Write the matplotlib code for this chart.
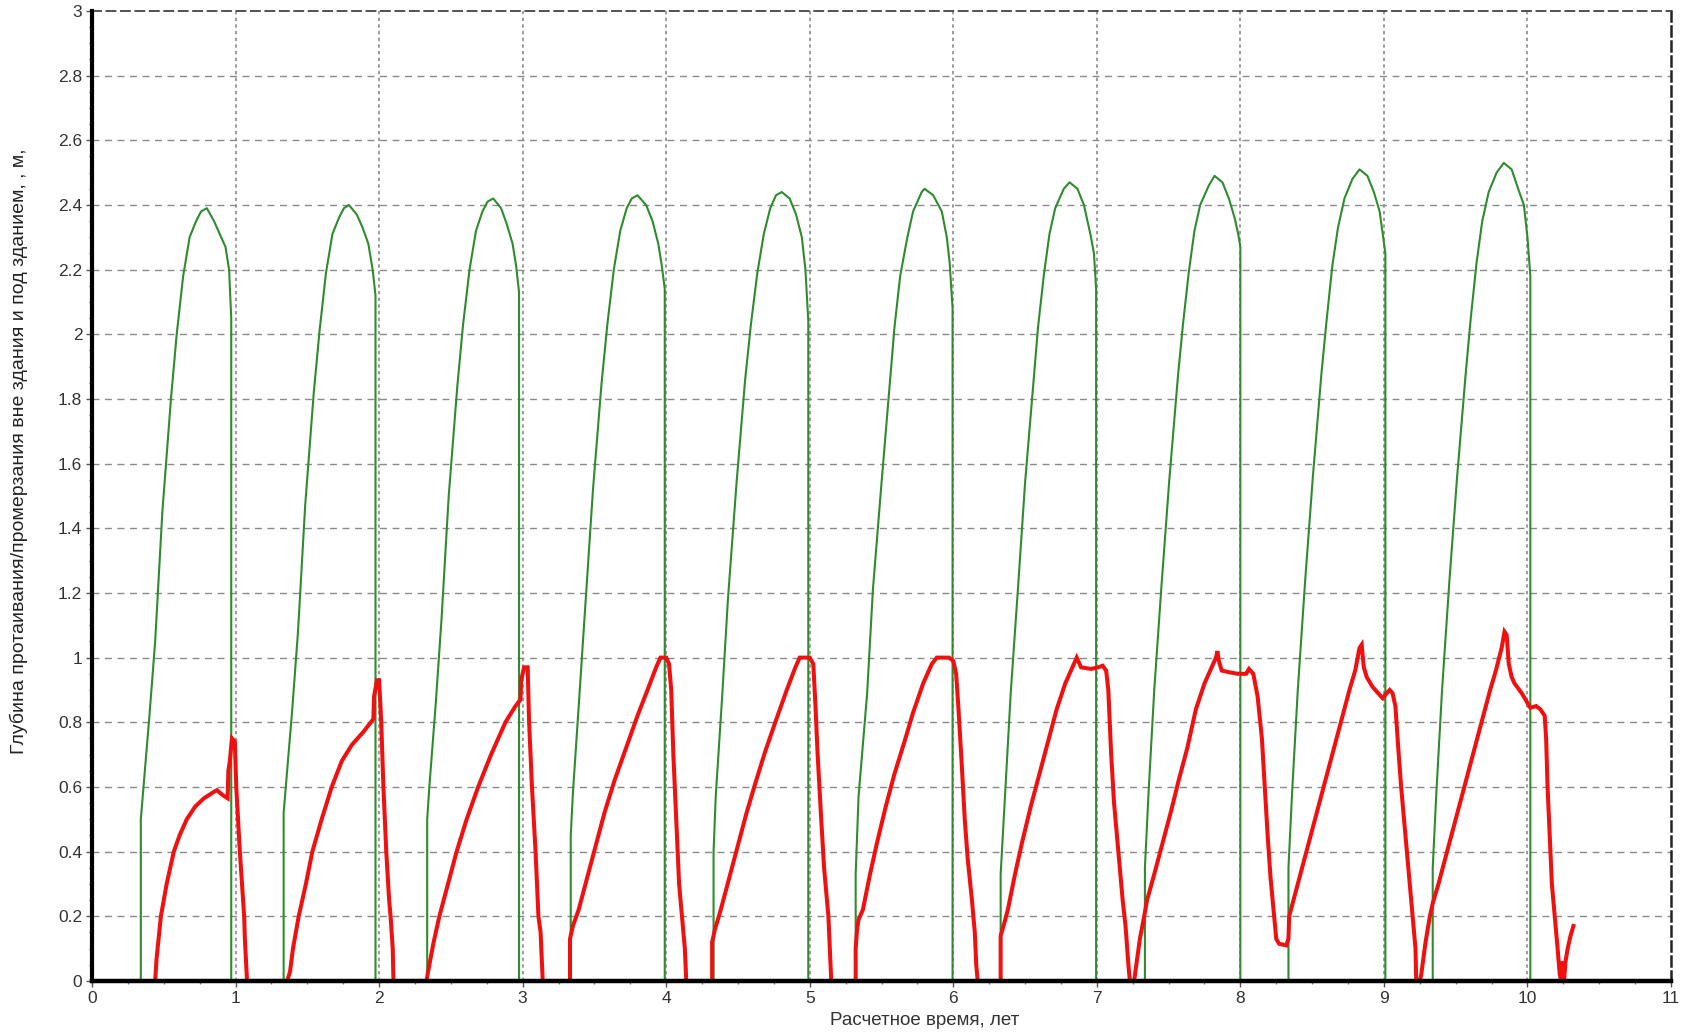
import matplotlib
matplotlib.use('Agg')
import matplotlib.pyplot as plt
from matplotlib.ticker import MultipleLocator, FormatStrFormatter

# Граница промерзания (зелёная), по годам
green_x = [
    [0.34, 0.34, 0.355, 0.40, 0.44, 0.49, 0.55, 0.59, 0.635, 0.68, 0.725, 0.76, 0.80, 0.85, 0.89, 0.93, 0.955, 0.97, 0.97],
    [1.335, 1.335, 1.35, 1.395, 1.435, 1.485, 1.545, 1.585, 1.63, 1.675, 1.72, 1.755, 1.79, 1.845, 1.885, 1.925, 1.955, 1.975, 1.975],
    [2.335, 2.335, 2.35, 2.395, 2.435, 2.485, 2.545, 2.585, 2.63, 2.675, 2.72, 2.755, 2.795, 2.85, 2.89, 2.93, 2.955, 2.975, 2.975],
    [3.335, 3.335, 3.35, 3.395, 3.435, 3.49, 3.55, 3.59, 3.635, 3.68, 3.725, 3.76, 3.80, 3.86, 3.905, 3.945, 3.97, 3.99, 3.99],
    [4.33, 4.33, 4.345, 4.39, 4.43, 4.49, 4.55, 4.59, 4.635, 4.68, 4.725, 4.765, 4.805, 4.86, 4.905, 4.945, 4.97, 4.99, 4.99],
    [5.32, 5.32, 5.34, 5.40, 5.44, 5.50, 5.56, 5.59, 5.63, 5.68, 5.72, 5.78, 5.80, 5.86, 5.92, 5.955, 5.975, 5.995, 5.995],
    [6.33, 6.33, 6.36, 6.40, 6.45, 6.50, 6.56, 6.59, 6.63, 6.67, 6.71, 6.77, 6.81, 6.865, 6.91, 6.955, 6.98, 6.995, 6.995],
    [7.335, 7.335, 7.36, 7.40, 7.45, 7.505, 7.565, 7.60, 7.64, 7.68, 7.72, 7.78, 7.82, 7.875, 7.92, 7.96, 7.985, 8.0, 8.0],
    [8.335, 8.335, 8.36, 8.40, 8.45, 8.505, 8.565, 8.60, 8.64, 8.68, 8.725, 8.78, 8.83, 8.885, 8.93, 8.97, 8.995, 9.01, 9.01],
    [9.34, 9.34, 9.365, 9.405, 9.455, 9.51, 9.57, 9.605, 9.645, 9.685, 9.73, 9.785, 9.835, 9.89, 9.935, 9.975, 10.0, 10.02, 10.02],
]
green_y = [
    [0, 0.50, 0.58, 0.82, 1.05, 1.45, 1.80, 2.00, 2.18, 2.30, 2.35, 2.38, 2.39, 2.35, 2.31, 2.27, 2.20, 2.05, 0],
    [0, 0.52, 0.60, 0.84, 1.08, 1.47, 1.82, 2.01, 2.19, 2.31, 2.36, 2.39, 2.40, 2.37, 2.33, 2.28, 2.20, 2.12, 0],
    [0, 0.50, 0.60, 0.86, 1.12, 1.50, 1.84, 2.03, 2.20, 2.32, 2.38, 2.41, 2.42, 2.39, 2.34, 2.28, 2.21, 2.13, 0],
    [0, 0.45, 0.58, 0.88, 1.15, 1.52, 1.85, 2.03, 2.20, 2.32, 2.39, 2.42, 2.43, 2.40, 2.35, 2.28, 2.21, 2.14, 0],
    [0, 0.40, 0.57, 0.88, 1.18, 1.54, 1.86, 2.03, 2.19, 2.31, 2.39, 2.43, 2.44, 2.42, 2.37, 2.30, 2.20, 2.04, 0],
    [0, 0.33, 0.57, 0.89, 1.21, 1.54, 1.86, 2.02, 2.18, 2.30, 2.38, 2.44, 2.45, 2.43, 2.38, 2.30, 2.22, 2.08, 0],
    [0, 0.33, 0.57, 0.89, 1.21, 1.54, 1.86, 2.02, 2.18, 2.31, 2.39, 2.45, 2.47, 2.45, 2.40, 2.31, 2.25, 2.14, 0],
    [0, 0.35, 0.58, 0.90, 1.22, 1.55, 1.87, 2.03, 2.19, 2.32, 2.40, 2.46, 2.49, 2.47, 2.42, 2.36, 2.31, 2.27, 0],
    [0, 0.35, 0.58, 0.90, 1.23, 1.56, 1.88, 2.04, 2.21, 2.33, 2.42, 2.48, 2.51, 2.49, 2.44, 2.38, 2.30, 2.25, 0],
    [0, 0.35, 0.58, 0.90, 1.23, 1.56, 1.88, 2.05, 2.22, 2.35, 2.44, 2.50, 2.53, 2.51, 2.45, 2.40, 2.30, 2.18, 0],
]

# Граница протаивания (красная), весь расчетный период
red_x = [
    0.44, 0.45, 0.48, 0.52, 0.57, 0.61, 0.66, 0.72, 0.78, 0.85, 0.87, 0.91, 0.945, 0.95, 0.96, 0.975, 0.995, 1.005, 1.03, 1.06, 1.065, 1.08,
    1.36, 1.38, 1.40, 1.44, 1.49, 1.535, 1.60, 1.67, 1.74, 1.81, 1.89, 1.96, 1.965, 1.985, 2.0, 2.015, 2.03, 2.05, 2.07, 2.08, 2.095, 2.10,
    2.33, 2.35, 2.38, 2.42, 2.48, 2.54, 2.61, 2.69, 2.78, 2.88, 2.95, 2.985, 2.99, 3.01, 3.035, 3.045, 3.065, 3.09, 3.11, 3.125, 3.14,
    3.33, 3.33, 3.35, 3.39, 3.45, 3.51, 3.57, 3.64, 3.72, 3.80, 3.87, 3.93, 3.96, 4.0, 4.02, 4.035, 4.05, 4.07, 4.09, 4.11, 4.13, 4.14,
    4.32, 4.32, 4.34, 4.38, 4.44, 4.50, 4.56, 4.62, 4.69, 4.76, 4.84, 4.90, 4.93, 5.0, 5.025, 5.04, 5.055, 5.08, 5.10, 5.13, 5.14, 5.15,
    5.32, 5.32, 5.33, 5.34, 5.37, 5.42, 5.47, 5.53, 5.59, 5.66, 5.72, 5.79, 5.85, 5.885, 5.97, 6.0, 6.02, 6.035, 6.055, 6.08, 6.10, 6.13, 6.15, 6.16, 6.17,
    6.33, 6.33, 6.35, 6.38, 6.43, 6.48, 6.54, 6.60, 6.66, 6.72, 6.78, 6.83, 6.86, 6.89, 6.96, 7.01, 7.04, 7.065, 7.08, 7.10, 7.12, 7.15, 7.18, 7.20, 7.22, 7.23, 7.26,
    7.275, 7.30, 7.33, 7.35, 7.40, 7.46, 7.52, 7.57, 7.63, 7.69, 7.75, 7.80, 7.83, 7.84, 7.85, 7.87, 7.92, 7.98, 8.04, 8.06, 8.09, 8.12, 8.15, 8.17, 8.19, 8.21, 8.235, 8.25, 8.27, 8.32, 8.335,
    8.34, 8.40, 8.46, 8.52, 8.58, 8.64, 8.70, 8.76, 8.80, 8.83, 8.845, 8.86, 8.88, 8.92, 8.96, 8.99, 9.02, 9.04, 9.06, 9.08, 9.10, 9.12, 9.15, 9.18, 9.20, 9.22, 9.225, 9.25, 9.26,
    9.29, 9.32, 9.34, 9.38, 9.44, 9.50, 9.56, 9.62, 9.68, 9.74, 9.78, 9.82, 9.84, 9.855, 9.87, 9.89, 9.91, 9.935, 9.96, 10.0, 10.02, 10.06, 10.09, 10.12, 10.13, 10.14, 10.155, 10.17, 10.19, 10.21, 10.225, 10.235, 10.245, 10.255, 10.265, 10.28, 10.30, 10.32,
]
red_y = [
    0, 0.07, 0.2, 0.3, 0.4, 0.45, 0.5, 0.54, 0.565, 0.585, 0.59, 0.575, 0.565, 0.65, 0.68, 0.75, 0.74, 0.60, 0.40, 0.2, 0.13, 0,
    0, 0.03, 0.10, 0.2, 0.3, 0.4, 0.5, 0.6, 0.68, 0.73, 0.77, 0.81, 0.88, 0.93, 0.93, 0.80, 0.6, 0.4, 0.25, 0.2, 0.1, 0,
    0, 0.05, 0.12, 0.2, 0.3, 0.4, 0.5, 0.6, 0.7, 0.8, 0.85, 0.87, 0.93, 0.97, 0.97, 0.8, 0.6, 0.4, 0.2, 0.15, 0,
    0, 0.13, 0.17, 0.22, 0.32, 0.42, 0.52, 0.62, 0.72, 0.82, 0.90, 0.97, 1.0, 1.0, 0.98, 0.9, 0.7, 0.5, 0.3, 0.2, 0.1, 0,
    0, 0.12, 0.16, 0.22, 0.32, 0.42, 0.52, 0.61, 0.71, 0.80, 0.90, 0.97, 1.0, 1.0, 0.98, 0.85, 0.7, 0.5, 0.35, 0.2, 0.1, 0,
    0, 0.10, 0.16, 0.19, 0.22, 0.33, 0.43, 0.54, 0.64, 0.74, 0.83, 0.92, 0.98, 1.0, 1.0, 0.99, 0.95, 0.85, 0.7, 0.5, 0.38, 0.25, 0.15, 0.05, 0,
    0, 0.14, 0.17, 0.22, 0.33, 0.43, 0.54, 0.64, 0.74, 0.84, 0.92, 0.97, 1.0, 0.97, 0.965, 0.97, 0.975, 0.96, 0.9, 0.7, 0.55, 0.4, 0.25, 0.17, 0.05, 0, 0,
    0.05, 0.13, 0.2, 0.25, 0.33, 0.43, 0.53, 0.62, 0.72, 0.84, 0.92, 0.97, 1.0, 1.02, 0.99, 0.96, 0.955, 0.95, 0.95, 0.965, 0.95, 0.88, 0.75, 0.6, 0.45, 0.32, 0.2, 0.13, 0.115, 0.11, 0.13,
    0.2, 0.3, 0.4, 0.5, 0.6, 0.7, 0.8, 0.9, 0.96, 1.03, 1.04, 0.97, 0.94, 0.91, 0.89, 0.875, 0.89, 0.9, 0.89, 0.85, 0.72, 0.6, 0.45, 0.3, 0.2, 0.1, 0, 0, 0.02,
    0.12, 0.2, 0.24, 0.3, 0.4, 0.5, 0.6, 0.7, 0.8, 0.9, 0.96, 1.03, 1.08, 1.07, 0.98, 0.94, 0.92, 0.905, 0.89, 0.86, 0.845, 0.85, 0.84, 0.82, 0.75, 0.6, 0.45, 0.3, 0.2, 0.1, 0.02, 0, 0.06, 0, 0.06, 0.1, 0.14, 0.17,
]

x_ticks = list(range(0, 12))
y_ticks = [0, 0.2, 0.4, 0.6, 0.8, 1, 1.2, 1.4, 1.6, 1.8, 2, 2.2, 2.4, 2.6, 2.8, 3]

plt.rcParams['font.family'] = ['Liberation Sans', 'DejaVu Sans']

fig = plt.figure(figsize=(16.85, 10.34), dpi=100)
ax = fig.add_axes([0.0546, 0.0513, 0.9371, 0.9381])

for gx, gy in zip(green_x, green_y):
    ax.plot(gx, gy, color='#2e8b2e', lw=1.5, zorder=3)
ax.plot(red_x, red_y, color='#f01010', lw=2.9, zorder=4, solid_joinstyle='miter')

ax.set_xlim(0, 11)
ax.set_ylim(0, 3)
ax.set_xticks(x_ticks)
ax.set_yticks(y_ticks)
ax.yaxis.set_major_formatter(FormatStrFormatter('%g'))
ax.xaxis.set_minor_locator(MultipleLocator(0.25))
ax.yaxis.set_minor_locator(MultipleLocator(0.05))
ax.tick_params(which='major', length=4, width=1, color='#555555', labelsize=12.5,
               labelcolor='#333333', pad=3)
ax.tick_params(which='minor', length=2.5, width=1, color='#777777')

# сетка: горизонтальные штрихи, вертикальные точки
for yv in y_ticks[1:-1]:
    ax.axhline(yv, color='#8a8a8a', lw=1.0, ls=(0, (5, 4)), zorder=1)
for xv in x_ticks[1:-1]:
    ax.axvline(xv, color='#8a8a8a', lw=1.2, ls=(0, (2, 2)), zorder=1)

# нижняя ось поверх линий, чтобы нулевые участки не торчали
ax.spines['bottom'].set_zorder(6)
ax.spines['left'].set_zorder(6)
ax.spines['left'].set_linewidth(3.0)
ax.spines['left'].set_color('black')
ax.spines['bottom'].set_linewidth(3.2)
ax.spines['bottom'].set_color('black')
ax.spines['top'].set_linewidth(1.3)
ax.spines['top'].set_color('#444444')
ax.spines['top'].set_linestyle((0, (5, 3)))
ax.spines['right'].set_linewidth(1.8)
ax.spines['right'].set_color('#222222')
ax.spines['right'].set_linestyle((0, (4, 2)))

fig.text(0.549, 0.0126, 'Расчетное время, лет', ha='center', va='center',
         fontsize=13.5, color='#333333')
fig.text(0.0113, 0.564, 'Глубина протаивания/промерзания вне здания и под зданием, , м,',
         rotation=90, ha='center', va='center', fontsize=14, color='#222222')

fig.savefig('out.png', dpi=100)
